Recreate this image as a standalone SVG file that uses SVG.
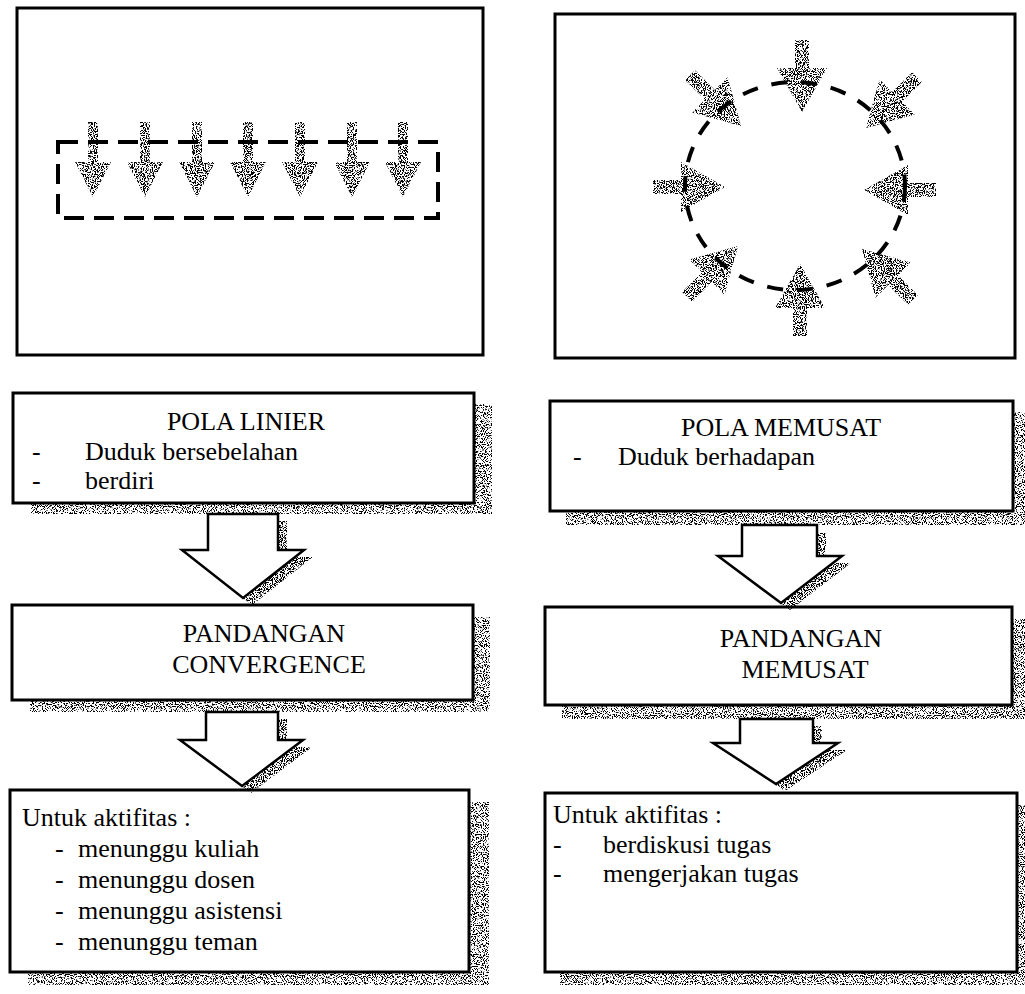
<svg xmlns="http://www.w3.org/2000/svg" xmlns:xlink="http://www.w3.org/1999/xlink" width="1025" height="994" viewBox="0 0 1025 994">
<style>
.frame{fill:#fff;stroke:#000;stroke-width:3}
.box{fill:#fff;stroke:#000;stroke-width:3}
.shadow{fill:#000;filter:url(#spkLight)}
.dash{fill:none;stroke:#000;stroke-width:4}
.sp{fill:#000;filter:url(#spk)}
.hollow{fill:#fff;stroke:#000;stroke-width:2.5;stroke-linejoin:miter}
.hshadow{fill:#000;filter:url(#spk)}
text{font-family:"Liberation Serif","Times New Roman",serif;font-size:26px;fill:#000}
.c{text-anchor:middle}
</style>
<defs>
<filter id="spk" x="-0.05" y="-0.05" width="1.1" height="1.1">
<feTurbulence type="fractalNoise" baseFrequency="0.9" numOctaves="1" seed="4" result="n"/>
<feColorMatrix in="n" type="matrix" values="0 0 0 0 0  0 0 0 0 0  0 0 0 0 0  18 0 0 0 -8.9" result="d"/>
<feComposite in="d" in2="SourceGraphic" operator="in"/>
</filter>
<filter id="spkLight" x="0" y="0" width="1" height="1">
<feTurbulence type="fractalNoise" baseFrequency="0.9" numOctaves="1" seed="7" result="n"/>
<feColorMatrix in="n" type="matrix" values="0 0 0 0 0  0 0 0 0 0  0 0 0 0 0  18 0 0 0 -9.4" result="d"/>
<feComposite in="d" in2="SourceGraphic" operator="in"/>
</filter>
<path id="downArrow" d="M-5,-75 H5 V-35 H18 L0,0 L-18,-35 H-5 Z"/>
<path id="ringArrow" d="M-7,-72 H7 V-44 H25 L0,0 L-25,-44 H-7 Z"/>
</defs>

<rect width="1025" height="994" fill="#fff"/>

<g id="panel-linier">
<rect class="frame" x="17" y="8" width="466" height="347"/>
<rect class="dash" x="58" y="142" width="380" height="76" stroke-dasharray="20 10"/>
<g class="sp">
<use xlink:href="#downArrow" x="93" y="197"/>
<use xlink:href="#downArrow" x="145" y="197"/>
<use xlink:href="#downArrow" x="197" y="197"/>
<use xlink:href="#downArrow" x="248" y="197"/>
<use xlink:href="#downArrow" x="300" y="197"/>
<use xlink:href="#downArrow" x="352" y="197"/>
<use xlink:href="#downArrow" x="403" y="197"/>
</g>
</g>

<g id="panel-memusat">
<rect class="frame" x="555" y="14" width="460" height="344"/>
<ellipse class="dash" cx="795" cy="186" rx="110" ry="104" stroke-dasharray="16 14"/>
<g class="sp">
<use xlink:href="#ringArrow" transform="translate(802,112)"/>
<use xlink:href="#ringArrow" transform="translate(800,264) rotate(180)"/>
<use xlink:href="#ringArrow" transform="translate(725,187) rotate(-90)"/>
<use xlink:href="#ringArrow" transform="translate(864,190) rotate(90)"/>
<use xlink:href="#ringArrow" transform="translate(741,126) rotate(-45)"/>
<use xlink:href="#ringArrow" transform="translate(866,128) rotate(45)"/>
<use xlink:href="#ringArrow" transform="translate(738,246) rotate(-135)"/>
<use xlink:href="#ringArrow" transform="translate(862,249) rotate(135)"/>
</g>
</g>

<g id="box-pola-linier">
<rect class="shadow" x="31" y="404" width="461" height="110"/>
<rect class="box" x="13" y="393" width="461" height="110"/>
<text class="c" x="246" y="430">POLA LINIER</text>
<text x="32" y="460">-</text><text x="85" y="460">Duduk bersebelahan</text>
<text x="32" y="489">-</text><text x="85" y="489">berdiri</text>
</g>

<g id="box-pandangan-convergence">
<rect class="shadow" x="30" y="617" width="460" height="95"/>
<rect class="box" x="12" y="605" width="461" height="95"/>
<text class="c" x="264" y="642">PANDANGAN</text>
<text class="c" x="269" y="673">CONVERGENCE</text>
</g>

<g id="box-aktifitas-linier">
<rect class="shadow" x="28" y="802" width="461" height="183"/>
<rect class="box" x="10" y="790" width="459" height="182"/>
<text x="22" y="826">Untuk aktifitas :</text>
<text x="55" y="857">-</text><text x="78" y="857">menunggu kuliah</text>
<text x="55" y="888">-</text><text x="78" y="888">menunggu dosen</text>
<text x="55" y="919">-</text><text x="78" y="919">menunggu asistensi</text>
<text x="55" y="950">-</text><text x="78" y="950">menunggu teman</text>
</g>

<g id="box-pola-memusat">
<rect class="shadow" x="566" y="412" width="459" height="113"/>
<rect class="box" x="550" y="401" width="463" height="110"/>
<text class="c" x="781" y="436">POLA MEMUSAT</text>
<text x="573" y="465">-</text><text x="618" y="465">Duduk berhadapan</text>
</g>

<g id="box-pandangan-memusat">
<rect class="shadow" x="562" y="619" width="463" height="100"/>
<rect class="box" x="545" y="607" width="467" height="98"/>
<text class="c" x="801" y="647">PANDANGAN</text>
<text class="c" x="805" y="678">MEMUSAT</text>
</g>

<g id="box-aktifitas-memusat">
<rect class="shadow" x="560" y="805" width="465" height="180"/>
<rect class="box" x="545" y="793" width="472" height="179"/>
<text x="553" y="823">Untuk aktifitas :</text>
<text x="553" y="853">-</text><text x="603" y="853">berdiskusi tugas</text>
<text x="553" y="882">-</text><text x="603" y="882">mengerjakan tugas</text>
</g>

<g id="connectors">
<g transform="translate(9,7)"><path class="hshadow" d="M208,514 H278 V550 H304 L243,598 L182,550 H208 Z"/></g>
<path class="hollow" d="M208,514 H278 V550 H304 L243,598 L182,550 H208 Z"/>
<g transform="translate(9,7)"><path class="hshadow" d="M206,712 H278 V740 H303 L242,786 L180,740 H206 Z"/></g>
<path class="hollow" d="M206,712 H278 V740 H303 L242,786 L180,740 H206 Z"/>
<g transform="translate(9,7)"><path class="hshadow" d="M742,525 H817 V556 H842 L781,603 L718,556 H742 Z"/></g>
<path class="hollow" d="M742,525 H817 V556 H842 L781,603 L718,556 H742 Z"/>
<g transform="translate(9,7)"><path class="hshadow" d="M740,719 H813 V743 H838 L776,784 L713,743 H740 Z"/></g>
<path class="hollow" d="M740,719 H813 V743 H838 L776,784 L713,743 H740 Z"/>
</g>
</svg>
